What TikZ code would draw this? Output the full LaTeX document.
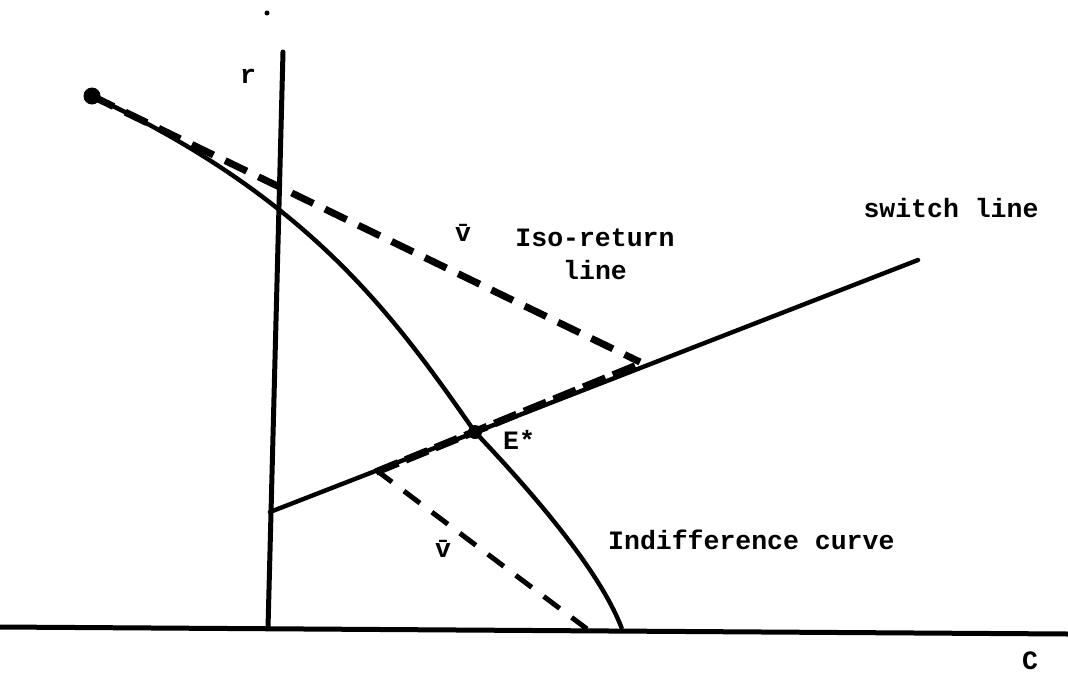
\documentclass[tikz,border=0pt]{standalone}
\usepackage{fontspec}
\setmonofont{Liberation Mono}
\begin{document}
\begin{tikzpicture}[x=1pt,y=-1pt,
  axis/.style={line width=5pt},
  curve/.style={line width=4.4pt},
  isodash/.style={line width=7pt,dash pattern=on 24pt off 13pt},
  lowdash/.style={line width=5pt,dash pattern=on 20pt off 15pt},
  ondash/.style={line width=7.5pt,dash pattern=on 24pt off 8pt},
  lbl/.style={font=\ttfamily\bfseries\fontsize{26.5}{30}\selectfont,inner sep=0pt},
  dotmark/.style={circle,fill=black,inner sep=0pt,minimum size=#1}]
\useasboundingbox (0,0) rectangle (1068,675);
% axes
\coordinate (xl) at (0,627);
\coordinate (xr) at (1068,634);
\coordinate (yt) at (283,52);
\coordinate (yb) at (268,628);
\draw[axis] (xl) -- (xr);
\draw[axis,line cap=round] (yb) -- (yt);
% key points
\node[dotmark=17pt] (P) at (92,96) {};
\node[dotmark=14pt] (E) at (475,432) {};
\coordinate (S0) at (270,512);
\coordinate (S1) at (918,260);
\coordinate (Q) at (640,362);
\coordinate (L0) at (376,470);
\coordinate (L1) at (587,629);
\coordinate (C0) at (622,629);
% switch line
\draw[curve,line cap=round] (S0) -- (S1);
% indifference curve
\draw[curve] (P.center) .. controls (312,199) and (395,318) .. (E.center)
  .. controls (530,490) and (600,570) .. (C0);
% iso-return dashed line
\draw[isodash] (P.center) -- (Q);
% dashed overlay on the switch line
\draw[ondash] ([yshift=-2pt]L0) -- ([yshift=-2pt]Q);
% lower dashed line
\draw[lowdash] (L0) -- (L1);
% stray dot
\node[dotmark=5pt] (speck) at (267,13) {};
% labels
\node[lbl] (r) at (248,76) {r};
\node[lbl] (vbar1) at (463,233) {\=v};
\node[lbl] (iso) at (595,238) {Iso-return};
\node[lbl] (isol) at (595,270) {line};
\node[lbl] (sw) at (951,208) {switch line};
\node[lbl] (Estar) at (519,440) {E*};
\node[lbl,anchor=west] (ind) at (608,540) {Indifference curve};
\node[lbl] (vbar2) at (443,549) {\=v};
\node[lbl] (C) at (1030,661) {C};
\end{tikzpicture}
\end{document}
